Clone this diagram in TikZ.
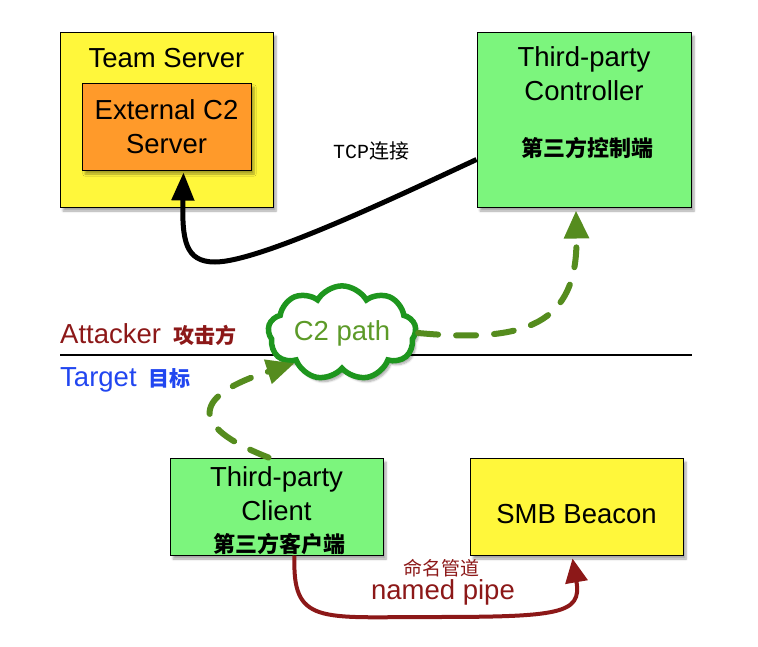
\documentclass[tikz,border=0pt]{standalone}
\usepackage{fontspec}
\setmainfont{Liberation Sans}
\newfontfamily\cjk{Noto Sans CJK SC}
\newfontfamily\mono{Liberation Mono}
\usetikzlibrary{arrows.meta,shapes.symbols,shadows.blur}
\definecolor{boxyellow}{HTML}{FFF73B}
\definecolor{boxorange}{HTML}{FF9A2A}
\definecolor{boxgreen}{HTML}{7CF57D}
\definecolor{pathgreen}{HTML}{1E961E}
\definecolor{dashgreen}{HTML}{558C1E}
\definecolor{textgreen}{HTML}{5C9A28}
\definecolor{darkred}{HTML}{8C1818}
\definecolor{targetblue}{HTML}{2146F0}

\begin{document}
\begin{tikzpicture}[x=1pt,y=-1pt,
  box/.style={draw=black,line width=1pt,inner sep=0pt,
    blur shadow={shadow xshift=3pt,shadow yshift=-4pt,shadow blur steps=6,shadow opacity=35}},
  big/.style={font=\fontsize{27.5}{34}\selectfont,inner sep=0pt},
  zh/.style={font=\cjk\bfseries\fontsize{22}{24}\selectfont,inner sep=0pt},
  greenarrow/.style={dashgreen,line width=6pt,line cap=round,dash pattern=on 20pt off 18pt,
    -{Triangle[length=28pt,width=24pt]}}]
  \useasboundingbox (0,0) rectangle (758,646);

  % attacker side
  \node[box,fill=boxyellow,minimum width=213pt,minimum height=175pt] (ts) at (166.5,119.5) {};
  \node[big,anchor=base] (tstext) at (166.5,67) {Team Server};
  \node[box,fill=boxorange,minimum width=169pt,minimum height=87pt,big,align=center] (ecs) at (166.5,126.5) {External C2\\Server};
  \node[box,fill=boxgreen,minimum width=214pt,minimum height=175pt] (tpc) at (584,119.5) {};
  \node[big,align=center] (tpctext) at (584,74) {Third-party\\Controller};
  \node[zh] (tpczh) at (587,148) {第三方控制端};
  \node[font=\fontsize{20}{24}\selectfont,inner sep=0pt] (tcp) at (371,151) {\mono TCP\cjk 连接};

  % split line
  \coordinate (l1) at (60,355);
  \coordinate (l2) at (692,355);
  \draw[line width=2pt] (l1) -- (l2);
  \node[big,text=darkred,anchor=base west] (att) at (60,343) {Attacker\hspace{12pt}\cjk\bfseries\fontsize{21}{24}\selectfont 攻击方};
  \node[big,text=targetblue,anchor=base west] (tgt) at (60,386) {Target\hspace{12pt}\cjk\bfseries\fontsize{21}{24}\selectfont 目标};

  \node[cloud,cloud puffs=9,cloud puff arc=120,aspect=1.9,draw=pathgreen,line width=5.5pt,fill=white,
    minimum width=148pt,minimum height=78pt,big,text=textgreen,
    blur shadow={shadow xshift=3pt,shadow yshift=-4pt,shadow blur steps=6,shadow opacity=35}] (cl) at (342,333) {C2 path};

  % target side
  \node[box,fill=boxgreen,minimum width=213pt,minimum height=97pt] (tpcl) at (276.5,506.5) {};
  \node[big,align=center] (tpcltext) at (276.5,494) {Third-party\\Client};
  \node[zh] (tpclzh) at (279,544) {第三方客户端};
  \node[box,fill=boxyellow,minimum width=213pt,minimum height=97pt] (smb) at (576.5,506.5) {};
  \node[big] (smbtext) at (576.5,514) {SMB Beacon};

  \node[font=\cjk\fontsize{19}{22}\selectfont,text=darkred,inner sep=0pt] (pipezh) at (441,568) {命名管道};
  \node[big,text=darkred] (pipe) at (443,592) {named pipe};

  % connectors
  \draw[line width=5pt,-{Triangle[length=28pt,width=22pt]}]
    ([yshift=-40pt]tpc.west) .. controls (400,195) and (260,262) .. (215,262)
    .. controls (185,262) and (182,240) .. ([xshift=17pt,yshift=-2pt]ecs.south);
  \draw[greenarrow] (cl.east) .. controls (525,343) and (578,325) .. ([xshift=-8pt,yshift=-3pt]tpc.south);
  \draw[greenarrow] ([xshift=-8pt]tpcl.north) .. controls (185,425) and (195,395) .. (cl.south west);
  \draw[darkred,line width=4pt,-{Triangle[length=24pt,width=22pt]}]
    ([xshift=18pt]tpcl.south) .. controls (292,625) and (320,617) .. (430,617)
    .. controls (560,617) and (582,614) .. ([xshift=-4pt,yshift=-3pt]smb.south);
\end{tikzpicture}
\end{document}
